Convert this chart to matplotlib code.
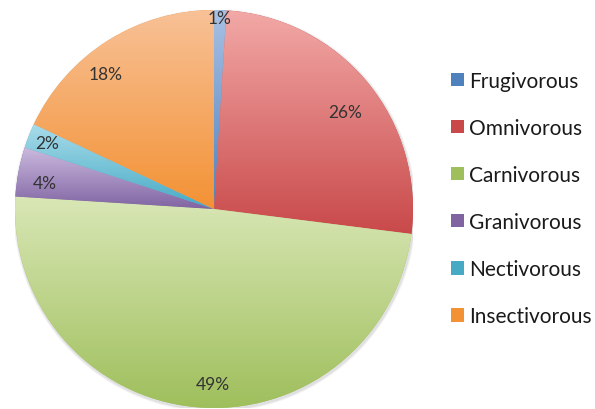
import numpy as np
import matplotlib.pyplot as plt
from matplotlib.patches import Patch, Circle
from matplotlib.colors import LinearSegmentedColormap

plt.rcParams['font.family'] = ['Lato', 'DejaVu Sans']

# data
labels = ['Frugivorous', 'Omnivorous', 'Carnivorous', 'Granivorous', 'Nectivorous', 'Insectivorous']
values = [1, 26, 49, 4, 2, 18]
# gradient colours (top, bottom) per slice
tops = ['#a9c1e4', '#f2a9a7', '#d9e7b6', '#cbbadf', '#a8dcea', '#f8c197']
bottoms = ['#4f81bd', '#c9494a', '#9fbf5c', '#8064a2', '#46aac5', '#f39234']
# label placement: distance from centre (fraction of radius), angle shift in degrees
label_dist = [0.96, 0.82, 0.88, 0.86, 0.90, 0.87]
label_shift = [0, -3, 5, 2, 0, 6.5]

fig = plt.figure(figsize=(5.95, 4.10), dpi=100)
ax = fig.add_axes([15/595, 1/410, 398/595, 398/410])

# soft shadow behind the pie
for r, a in [(1.012, 0.10), (1.006, 0.15)]:
    ax.add_patch(Circle((0.004, -0.008), r, facecolor='#7f7f7f', edgecolor='none',
                        alpha=a, zorder=0))

wedges, _ = ax.pie(values, startangle=90, counterclock=False, radius=1,
                   wedgeprops=dict(linewidth=0))

# fill every wedge with a vertical gradient clipped to its shape
for w, c_top, c_bot in zip(wedges, tops, bottoms):
    bb = w.get_path().get_extents()
    cmap = LinearSegmentedColormap.from_list('g', [c_bot, c_top])
    grad = np.linspace(0, 1, 256).reshape(-1, 1)
    im = ax.imshow(grad, cmap=cmap, origin='lower', aspect='auto',
                   extent=[bb.x0, bb.x1, bb.y0, bb.y1], zorder=w.get_zorder() + 0.1)
    im.set_clip_path(w)
    w.set_facecolor(c_bot)

# percentage labels
for w, v, d, s in zip(wedges, values, label_dist, label_shift):
    ang = np.deg2rad((w.theta1 + w.theta2) / 2 + s)
    ax.text(d * np.cos(ang), d * np.sin(ang), f'{v}%', ha='center', va='center',
            fontsize=12.5, color='#333333', zorder=10)

ax.set_xlim(-1, 1)
ax.set_ylim(-1, 1)
ax.set_aspect('equal')
ax.axis('off')

handles = [Patch(facecolor=c, edgecolor='none') for c in bottoms]
fig.legend(handles, labels, loc='center left', bbox_to_anchor=(451/595, 0.513),
           frameon=False, fontsize=15, handlelength=0.6, handleheight=0.6,
           handletextpad=0.25, labelspacing=1.3, borderpad=0, borderaxespad=0,
           labelcolor='#1a1a1a')

plt.savefig('out.png', dpi=100)
